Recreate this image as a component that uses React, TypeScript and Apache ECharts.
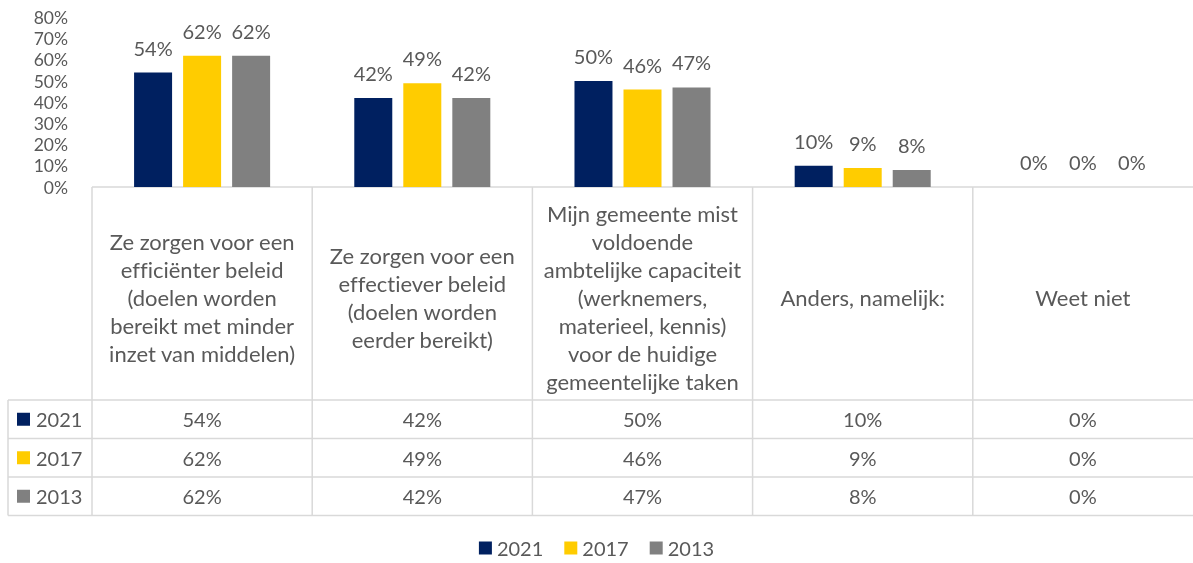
import React, { useEffect, useRef } from 'react';
import * as echarts from 'echarts';

const categories = [
  'Ze zorgen voor een\nefficiënter beleid\n(doelen worden\nbereikt met minder\ninzet van middelen)',
  'Ze zorgen voor een\neffectiever beleid\n(doelen worden\neerder bereikt)',
  'Mijn gemeente mist\nvoldoende\nambtelijke capaciteit\n(werknemers,\nmaterieel, kennis)\nvoor de huidige\ngemeentelijke taken',
  'Anders, namelijk:',
  'Weet niet',
];
const years = ['2021', '2017', '2013'];
const values2021 = [54, 42, 50, 10, 0];
const values2017 = [62, 49, 46, 9, 0];
const values2013 = [62, 42, 47, 8, 0];
const seriesValues = [values2021, values2017, values2013];
const colors = ['#002060', '#FFCC00', '#808080'];
const yMax = 80;
const yInterval = 10;

const FONT = 'Lato';
const TEXT = '#595959';
const LINE = '#D9D9D9';
const NUM_SIZE = 20;
const AXIS_SIZE = 17.5;
const HEAD_SIZE = 22;

export default function App() {
  const ref = useRef<HTMLDivElement>(null);
  useEffect(() => {
    if (!ref.current) return;
    const chart = echarts.init(ref.current, undefined, { renderer: 'svg' });
    const gridLeft = 92;
    const gridTop = 17.5;
    const baseY = 187;
    const option: any = {
      animation: false,
      textStyle: { fontFamily: FONT },
      grid: { left: gridLeft, right: 0, top: gridTop, height: baseY - gridTop, containLabel: false },
      legend: {
        data: years,
        bottom: 0,
        left: 'center',
        icon: 'rect',
        itemWidth: 13,
        itemHeight: 13,
        itemGap: 21,
        textStyle: { fontFamily: FONT, fontSize: NUM_SIZE, color: TEXT },
      },
      xAxis: {
        type: 'category',
        data: categories,
        axisLine: { show: false },
        axisTick: { show: false },
        axisLabel: { show: false },
      },
      yAxis: {
        type: 'value',
        min: 0,
        max: yMax,
        interval: yInterval,
        splitLine: { show: false },
        axisLine: { show: false },
        axisTick: { show: false },
        axisLabel: {
          formatter: '{value}%',
          fontFamily: FONT,
          fontSize: AXIS_SIZE,
          lineHeight: 18,
          color: TEXT,
          margin: 24,
        },
      },
      series: years.map((y, i) => ({
        name: y,
        type: 'bar',
        data: seriesValues[i],
        barWidth: 38,
        barGap: '29%',
        itemStyle: { color: colors[i] },
        label: {
          show: true,
          position: 'top',
          distance: 15,
          formatter: '{c}%',
          fontFamily: FONT,
          fontSize: NUM_SIZE,
          color: TEXT,
        },
      })),
    };
    chart.setOption(option);

    const right = 1193;
    const colCenters = categories.map((_, i) => chart.convertToPixel({ xAxisIndex: 0 }, i) as number);
    const colW = (right - gridLeft) / categories.length;
    const headerBottom = 400;
    const rowH = 38.5;
    const tableLeft = 8;
    const graphics: any[] = [];
    const ln = (x1: number, y1: number, x2: number, y2: number) => ({
      type: 'line',
      shape: { x1, y1, x2, y2 },
      style: { stroke: LINE, lineWidth: 1.5 },
      silent: true,
    });
    graphics.push(ln(gridLeft, baseY, right, baseY));
    for (let r = 0; r <= years.length; r++) {
      const y = headerBottom + r * rowH;
      graphics.push(ln(tableLeft, y, right, y));
    }
    const tableBottom = headerBottom + years.length * rowH;
    graphics.push(ln(tableLeft, headerBottom, tableLeft, tableBottom));
    for (let c = 0; c < categories.length; c++) {
      const x = gridLeft + c * colW;
      graphics.push(ln(x, baseY, x, tableBottom));
    }
    categories.forEach((cat, i) => {
      graphics.push({
        type: 'text',
        x: colCenters[i],
        y: 297,
        style: {
          text: cat,
          fontFamily: FONT,
          fontSize: HEAD_SIZE,
          lineHeight: 28,
          fill: TEXT,
          align: 'center',
          verticalAlign: 'middle',
        },
        silent: true,
      });
    });
    years.forEach((yr, r) => {
      const cy = headerBottom + r * rowH + rowH / 2;
      graphics.push({
        type: 'rect',
        shape: { x: 17, y: cy - 6.5, width: 13, height: 13 },
        style: { fill: colors[r] },
        silent: true,
      });
      graphics.push({
        type: 'text',
        x: 36,
        y: cy,
        style: { text: yr, fontFamily: FONT, fontSize: NUM_SIZE, fill: TEXT, align: 'left', verticalAlign: 'middle' },
        silent: true,
      });
      seriesValues[r].forEach((v, i) => {
        graphics.push({
          type: 'text',
          x: colCenters[i],
          y: cy,
          style: { text: v + '%', fontFamily: FONT, fontSize: NUM_SIZE, fill: TEXT, align: 'center', verticalAlign: 'middle' },
          silent: true,
        });
      });
    });
    chart.setOption({ graphic: graphics });
    return () => chart.dispose();
  }, []);
  return (
    <div
      ref={ref}
      style={{ position: 'fixed', left: 0, top: 0, width: 1193, height: 563, fontVariantLigatures: 'none' }}
    />
  );
}
